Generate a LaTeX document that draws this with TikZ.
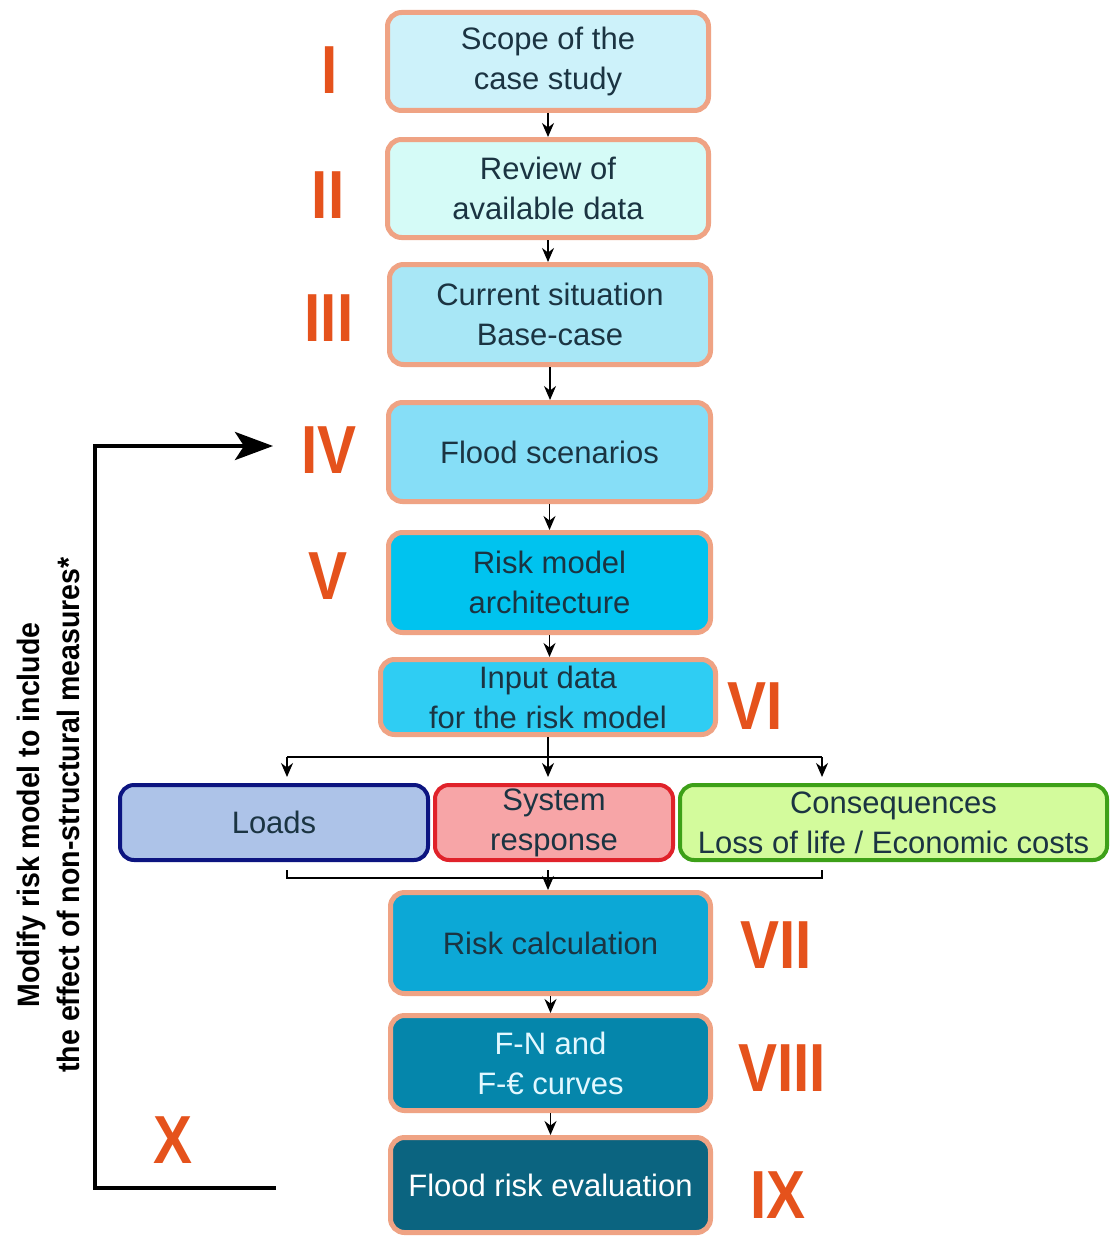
\documentclass[tikz,border=0pt]{standalone}
\usepackage{fontspec}
\setmainfont{Liberation Sans}
\newfontfamily\numfont[FakeStretch=0.86]{Liberation Sans}
\newfontfamily\notefont[FakeStretch=0.92]{Liberation Sans}
\usetikzlibrary{arrows.meta}

\definecolor{rim}{HTML}{EFA384}
\definecolor{ink}{HTML}{1B3442}
\definecolor{numred}{HTML}{E5521C}
\definecolor{cI}{HTML}{CDF2FA}
\definecolor{cII}{HTML}{D5FBF7}
\definecolor{cIII}{HTML}{A8E7F6}
\definecolor{cIV}{HTML}{86DEF7}
\definecolor{cV}{HTML}{00C3EF}
\definecolor{cVI}{HTML}{2FCDF3}
\definecolor{cVII}{HTML}{0CA8D6}
\definecolor{cVIII}{HTML}{0586AB}
\definecolor{cIX}{HTML}{0B6480}
\definecolor{loadfill}{HTML}{ADC3E8}
\definecolor{loadrim}{HTML}{0C1480}
\definecolor{sysfill}{HTML}{F7A5A7}
\definecolor{sysrim}{HTML}{E0222A}
\definecolor{consfill}{HTML}{D3FB9C}
\definecolor{consrim}{HTML}{3DA018}
\definecolor{paleink}{HTML}{E2F8FF}

\begin{document}
\begin{tikzpicture}[x=1pt,y=-1pt,
  stage/.style={draw=rim, line width=5pt, rounded corners=14pt, inner sep=0pt,
    align=center, text=ink, font=\fontsize{31}{40}\selectfont},
  part/.style={stage, line width=4pt},
  numeral/.style={text=numred, inner sep=0pt, font=\numfont\bfseries\fontsize{68}{68}\selectfont},
  flow/.style={-{Stealth[length=14pt,width=12pt]}, line width=1.6pt},
  bracket/.style={line width=1.8pt},
  loop/.style={line width=4pt},
]
\fill[white] (0,0) rectangle (1111,1236);

% main column of stages
\node[stage, fill=cI,    minimum width=321pt, minimum height=98pt]  (s1) at (548,61.5)  {Scope of the\\case study};
\node[stage, fill=cII,   minimum width=321pt, minimum height=98pt]  (s2) at (548,188.5) {Review of\\available data};
\node[stage, fill=cIII,  minimum width=321pt, minimum height=100pt] (s3) at (550,314.5) {Current situation\\Base-case};
\node[stage, fill=cIV,   minimum width=322pt, minimum height=99pt]  (s4) at (549.5,452) {Flood scenarios};
\node[stage, fill=cV,    minimum width=322pt, minimum height=100pt] (s5) at (549.5,582.5) {Risk model\\architecture};
\node[stage, fill=cVI,   minimum width=335pt, minimum height=75pt]  (s6) at (548,697)   {Input data\\for the risk model};
\node[stage, fill=cVII,  minimum width=320pt, minimum height=101pt] (s7) at (550.5,943) {Risk calculation};
\node[stage, fill=cVIII, minimum width=320pt, minimum height=95pt, text=paleink] (s8) at (550.5,1063) {F-N and\\F-€ curves};
\node[stage, fill=cIX,   minimum width=320pt, minimum height=95pt, text=white]   (s9) at (550.5,1185) {Flood risk evaluation};

% model components
\node[part, draw=loadrim, fill=loadfill, minimum width=308pt, minimum height=75pt] (loads) at (274,822.5) {Loads};
\node[part, draw=sysrim,  fill=sysfill,  minimum width=238pt, minimum height=75pt] (sys)   at (554,822.5) {System\\response};
\node[part, draw=consrim, fill=consfill, minimum width=427pt, minimum height=75pt] (cons)  at (893.5,822.5) {Consequences\\Loss of life / Economic costs};

% stage numbers
\node[numeral] (nI)    at (330,70)   {I};
\node[numeral] (nII)   at (328,195)  {II};
\node[numeral] (nIII)  at (329,318)  {III};
\node[numeral] (nIV)   at (329,450)  {IV};
\node[numeral] (nV)    at (328,576)  {V};
\node[numeral] (nVI)   at (755,706)  {VI};
\node[numeral] (nVII)  at (776,945)  {VII};
\node[numeral] (nVIII) at (782,1068) {VIII};
\node[numeral] (nIX)   at (778,1195) {IX};
\node[numeral] (nX)    at (173,1140) {X};

% sequential arrows
\draw[flow] (s1.south) -- (s2.north);
\draw[flow] (s2.south) -- (s2.south |- s3.north);
\draw[flow] (s3.south) -- (s3.south |- s4.north);
\draw[flow] (s4.south) -- (s4.south |- s5.north);
\draw[flow] (s5.south) -- (s5.south |- s6.north);

% split into the three components
\coordinate (split)  at (548,757);
\coordinate (splitL) at (287,757);
\coordinate (splitR) at (822,757);
\draw[bracket] (s6.south) -- (split);
\draw[bracket] (splitL) -- (splitR);
\draw[flow, shorten >=6pt] (splitL) -- (splitL |- loads.north);
\draw[flow, shorten >=6pt] (split)  -- (split |- sys.north);
\draw[flow, shorten >=6pt] (splitR) -- (splitR |- cons.north);

% merge into the risk calculation
\coordinate (mergeL) at (287,870);
\coordinate (mergeR) at (822,870);
\coordinate (merge)  at (548,870);
\draw[line width=1.3pt] (mergeL) -- ++(0,8) -- (822,878) -- (mergeR);
\draw[flow] (merge) -- (merge |- s7.north);

\draw[flow] (s7.south) -- (s7.south |- s8.north);
\draw[flow] (s8.south) -- (s8.south |- s9.north);

% feedback loop
\coordinate (loopStart) at (276,1188);
\coordinate (loopEnd)   at (273,446);
\draw[loop, -{Stealth[length=38pt,width=28pt,inset=9pt]}]
  (loopStart) -- (95,1188) -- (95,446) -- (loopEnd);
\node[rotate=90, align=center, text=black, inner sep=0pt,
      font=\notefont\bfseries\fontsize{31}{40}\selectfont] (loopText) at (48,815)
  {Modify risk model to include\\the effect of non-structural measures*};
\end{tikzpicture}
\end{document}
